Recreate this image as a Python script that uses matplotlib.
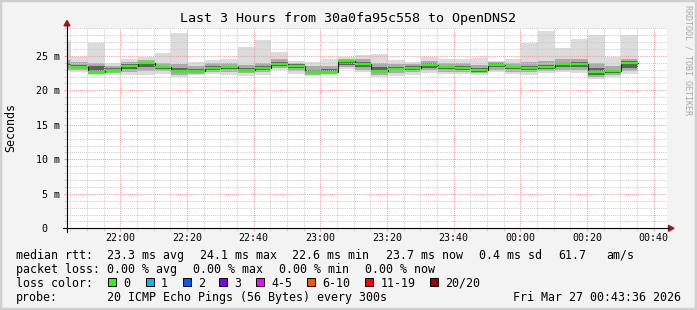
import numpy as np
import matplotlib.pyplot as plt
from matplotlib.patches import Rectangle, Polygon
from matplotlib.lines import Line2D

# rtt per 300 s step, ms (first step is cut by the left edge)
med = [23.6, 23.35, 22.7, 23.0, 23.5, 23.9, 23.35, 22.8, 22.8, 23.3,
       23.35, 23.0, 23.25, 23.8, 23.55, 22.7, 22.7, 24.2, 23.85, 22.8,
       23.15, 23.3, 23.7, 23.35, 23.2, 22.95, 23.75, 23.35, 23.2, 23.4,
       23.8, 23.8, 22.65, 22.75, 23.9]
lo = [22.8, 22.6, 22.2, 22.2, 22.2, 22.3, 22.4, 22.0, 22.2, 22.4,
      22.3, 22.1, 22.2, 23.0, 22.4, 22.1, 22.2, 23.1, 22.6, 22.0,
      22.1, 22.3, 22.5, 22.4, 22.4, 22.2, 22.7, 22.4, 22.3, 22.5,
      22.6, 22.5, 21.7, 22.0, 22.4]
hi = [27.1, 24.9, 26.9, 24.0, 24.6, 24.9, 25.4, 28.3, 24.1, 24.4,
      24.6, 26.3, 27.3, 25.5, 24.3, 24.05, 24.6, 24.9, 25.1, 25.26,
      24.4, 24.05, 24.8, 24.6, 24.6, 24.7, 24.3, 24.5, 26.9, 28.6,
      26.1, 27.4, 28.1, 24.9, 28.1]
mid_lo = [23.0, 22.9, 22.4, 22.5, 22.6, 22.8, 22.8, 22.3, 22.4, 22.7,
          22.7, 22.5, 22.6, 23.3, 22.8, 22.3, 22.4, 23.4, 23.0, 22.3,
          22.5, 22.6, 22.9, 22.7, 22.7, 22.5, 23.0, 22.7, 22.6, 22.8,
          23.0, 23.0, 22.0, 22.3, 22.8]
mid_hi = [24.4, 24.1, 24.0, 23.6, 24.1, 24.4, 24.0, 23.8, 23.6, 23.9,
          23.9, 23.7, 23.9, 24.5, 24.0, 23.5, 23.6, 24.6, 24.5, 24.0,
          23.8, 23.8, 24.2, 24.0, 23.9, 23.7, 24.1, 24.0, 24.1, 24.3,
          24.5, 24.6, 23.9, 23.6, 24.5]
core_lo = [23.4, 23.2, 22.6, 22.8, 23.1, 23.4, 23.1, 22.6, 22.6, 23.0,
           23.1, 22.8, 23.0, 23.5, 23.2, 22.5, 22.6, 23.7, 23.4, 22.6,
           22.9, 23.0, 23.3, 23.1, 23.0, 22.7, 23.4, 23.1, 22.9, 23.1,
           23.4, 23.4, 22.3, 22.5, 23.3]
core_hi = [23.9, 23.7, 23.5, 23.3, 23.8, 24.1, 23.6, 23.2, 23.1, 23.6,
           23.6, 23.3, 23.5, 24.1, 23.8, 23.0, 23.1, 24.4, 24.1, 23.4,
           23.4, 23.5, 23.9, 23.6, 23.5, 23.2, 23.9, 23.6, 23.5, 23.7,
           24.0, 24.1, 23.2, 23.0, 24.2]

first_step = -19.7  # minutes from 22:00
step_min = 5
xtick_labels = ['22:00', '22:20', '22:40', '23:00', '23:20', '23:40',
                '00:00', '00:20', '00:40']
ytick_labels = ['0  ', '5 m', '10 m', '15 m', '20 m', '25 m']

title = 'Last 3 Hours from 30a0fa95c558 to OpenDNS2'
rtt = {'avg': 23.3, 'max': 24.1, 'min': 22.6, 'now': 23.7}
rtt_sd = 0.4
am_s = 61.7
loss = {'avg': 0.0, 'max': 0.0, 'min': 0.0, 'now': 0.0}
loss_names = ['0', '1', '2', '3', '4-5', '6-10', '11-19', '20/20']
loss_colors = ['#26ff00', '#00b8ff', '#0059ff', '#7e00ff', '#ff00ff',
               '#ff5500', '#ff0000', '#a10000']
probe = '20 ICMP Echo Pings (56 Bytes) every 300s'
stamp = 'Fri Mar 27 00:43:36 2026'

W, H = 697, 310
mono = 'DejaVu Sans Mono'
def fx(x):
    return x / W
def fy(y):
    return 1 - y / H

fig = plt.figure(figsize=(W / 100, H / 100), dpi=100, facecolor='#f3f3f3')
fig.patches.append(Rectangle((0, 0), 1, 1, transform=fig.transFigure,
                             fill=False, edgecolor='#cfcfcf', lw=3.2))
ax = fig.add_axes([fx(67), fy(228.3), 600 / W, 200 / H])
ax.set_facecolor('white')

n = len(med)
edges = first_step + step_min * np.arange(n + 1)
left = edges[:-1]
ax.bar(left, np.subtract(hi, lo), bottom=lo, width=step_min, align='edge',
       color='#dcdcdc', lw=0, zorder=1)
ax.bar(left, np.subtract(mid_hi, mid_lo), bottom=mid_lo, width=step_min,
       align='edge', color='#ababab', lw=0, zorder=1.1)
ax.bar(left, np.subtract(core_hi, core_lo), bottom=core_lo, width=step_min,
       align='edge', color='#606060', lw=0, zorder=1.2)
ax.step(edges, list(med) + [med[-1]], where='post', color='#202020',
        lw=0.8, zorder=3)
ax.hlines(med, edges[:-1], edges[1:], color=loss_colors[0], lw=1.6, zorder=4)

ax.set_xlim(-16, 164)
ax.set_ylim(0, 29)
ax.set_xticks(np.arange(0, 161, 20), xtick_labels)
ax.set_xticks(np.arange(-15, 165, 5), minor=True)
ax.set_yticks(np.arange(0, 26, 5), ytick_labels)
ax.set_yticks(np.arange(0, 30, 1), minor=True)
ax.grid(which='major', color='#f0a0a0', ls=(0, (1, 1)), lw=0.75)
ax.grid(which='minor', color='#cdcdcd', ls=(0, (1, 1)), lw=0.75)
ax.set_axisbelow(False)
for s in ax.spines.values():
    s.set_visible(False)
ax.tick_params(which='both', direction='out', length=2.2, width=0.75)
ax.tick_params(which='major', colors='#f0a0a0', labelcolor='black',
               labelsize=7.2)
ax.tick_params(which='minor', colors='#cdcdcd')
ax.tick_params(axis='y', pad=3.2)
ax.tick_params(axis='x', pad=1.2)
for lab in ax.get_xticklabels() + ax.get_yticklabels():
    lab.set_fontfamily(mono)

# axis lines and arrows
fig.add_artist(Line2D([fx(67), fx(67)], [fy(231.5), fy(25)], color='black', lw=0.8))
fig.add_artist(Line2D([fx(63), fx(669)], [fy(228.3), fy(228.3)], color='black', lw=0.8))
fig.add_artist(Polygon([(fx(64), fy(25.8)), (fx(70), fy(25.8)), (fx(67), fy(20.5))],
                       closed=True, transform=fig.transFigure, color='#9b1c1c'))
fig.add_artist(Polygon([(fx(668.5), fy(225.3)), (fx(668.5), fy(231.3)), (fx(674), fy(228.3))],
                       closed=True, transform=fig.transFigure, color='#9b1c1c'))

fig.text(0.5, fy(18.5), title, ha='center', va='center', fontsize=9.6,
         family=mono)
fig.text(fx(10.5), fy(127), 'Seconds', rotation=90, ha='center', va='center',
         fontsize=8.4, family=mono)
fig.text(fx(688), fy(5), 'RRDTOOL / TOBI OETIKER', rotation=270, ha='center',
         va='top', fontsize=6, family=mono, color='#a8a8a8')

row_y = [254, 268, 282, 296.3]
fs = 8.4
def put(x, y, s, **kw):
    fig.text(fx(x), fy(y), s, ha='left', va='center_baseline', fontsize=fs,
             family=mono, **kw)

row1 = ['median rtt:'] + ['%.1f ms %s' % (v, k) for k, v in rtt.items()] + \
       ['%.1f ms sd' % rtt_sd, '%.1f' % am_s, 'am/s']
for x, s in zip([16, 107.3, 200, 292.3, 385.7, 479.3, 558.3, 606.7], row1):
    put(x, row_y[0], s)
row2 = ['packet loss:'] + ['%.2f %% %s' % (v, k) for k, v in loss.items()]
for x, s in zip([16, 107.3, 193.3, 279.3, 365], row2):
    put(x, row_y[1], s)
put(16, row_y[2], 'loss color:')
box_x = [108.3, 145.7, 182.7, 219.3, 256, 306.7, 365, 430]
for x, name, c in zip(box_x, loss_names, loss_colors):
    fig.patches.append(Rectangle((fx(x), fy(row_y[2] + 4)), 8 / W, 8 / H,
                                 transform=fig.transFigure, facecolor=c,
                                 edgecolor='black', lw=0.7))
    put(x + 15.3, row_y[2], name)
put(16, row_y[3], 'probe:')
put(107.3, row_y[3], probe)
fig.text(fx(681), fy(row_y[3]), stamp, ha='right', va='center_baseline',
         fontsize=fs, family=mono)

fig.savefig('out.png', dpi=100, facecolor=fig.get_facecolor())
